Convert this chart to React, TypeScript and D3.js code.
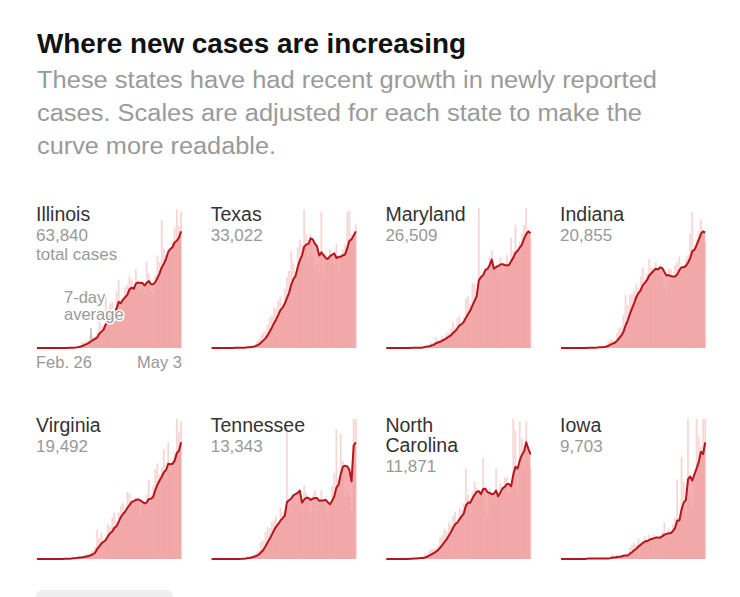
import React, { useEffect, useRef } from "react";
import * as d3 from "d3";

const WIDTH = 740;
const HEIGHT = 597;

// daily new cases, Feb. 26 through May 3
const illinois = [0, 0, 0, 1,
  0, 1, 0, 0, 1, 1, 0, 1, 3, 4,
  6, 7, 14, 14, 29, 46, 55, 125, 134, 163,
  168, 296, 236, 250, 330, 673, 488, 465, 1105, 461, 937,
  986, 715, 1209, 1453, 899, 1006, 1287, 1344, 1529, 1465,
  1293, 1672, 1173, 1222, 1346, 1140, 1842, 1585, 1197, 1151,
  1551, 1968, 1826, 2724, 2119, 1980, 2126, 1983, 2253, 2563,
  2950, 2600, 2900];
const texas = [0, 0, 0, 0,
  0, 0, 1, 0, 3, 2, 1, 4, 2, 3,
  5, 8, 10, 14, 18, 27, 34,
  62, 90, 135, 160, 175, 240, 310,
  330, 410, 400, 480, 520, 410, 600,
  720, 780, 980, 860, 760, 1020,
  1100, 1050, 1400, 1150,
  900, 1150, 950, 800,
  850, 750, 1380, 700,
  950, 880, 1000, 950, 850, 1050, 780,
  950, 1000, 1050, 1380, 1390, 1150, 1050, 1250];
const maryland = [0, 0, 0, 0, 0, 0, 0, 0, 3, 0,
  2, 0, 3, 1, 3, 6, 5, 11, 20, 28,
  22, 44, 41, 83, 59, 60, 95,
  74, 118, 119, 150, 200, 159, 230,
  250, 180, 240, 380, 400, 340, 500,
  500, 440, 1100,
  550, 500, 620, 560,
  700, 750, 600,
  640, 560, 700, 580, 650, 720, 630,
  850, 750, 950, 700,
  820, 880, 950,
  1100, 900, 850];
const indiana = [0, 0, 0, 0, 0, 0, 0, 0, 0,
  1, 1, 0, 2, 6,
  2, 3, 4, 5, 9, 7, 15,
  22, 46, 57, 58, 50, 105, 138,
  150,
  230, 370, 300, 370, 380, 400, 450,
  420, 500, 560, 480, 520, 620, 560,
  540, 600, 520, 580, 500, 430, 380,
  560, 550, 500, 580, 600, 640, 520,
  560, 620, 650, 800,
  950, 700, 760, 820, 900, 780, 740];
const virginia = [0, 0, 0, 0, 0, 0, 0, 0, 0, 0,
  1, 1, 0, 5,
  1, 4, 11, 15, 6, 15, 22,
  10, 23, 37, 33, 48, 63, 86,
  210, 150, 190, 110, 140, 250, 230,
  300, 330, 270, 330, 380, 400, 350,
  480, 470, 420, 380, 440, 430, 300,
  410, 390, 460, 560, 450, 520, 640,
  680, 600, 650, 780, 560, 830, 620,
  700, 760, 1020, 900, 980];
const tennessee = [0, 0, 0, 0, 0, 0, 0, 0, 0, 1, 0, 0,
  2, 3, 5, 8, 13, 20, 25,
  24, 45, 60, 70, 140, 150, 220, 260,
  250, 300, 320, 350, 300, 420, 380,
  400, 1080,
  420, 450, 480, 500, 450, 520,
  400,
  600, 540, 480, 380, 520, 560,
  400, 440, 560, 480, 420, 380, 440,
  600, 700, 1060, 650, 1020, 800,
  500, 560, 500, 400, 2700, 1200];
const northCarolina = [0, 0, 0, 0, 0, 0, 1, 0, 0, 1,
  0, 5, 0, 7, 1, 9, 7,
  4, 23, 24, 40, 47, 49, 47,
  60, 100, 110, 140, 130, 170, 160,
  200, 220, 170, 240, 230, 260, 420,
  300, 210, 310, 360, 330, 280, 320,
  470,
  220, 200, 330, 290, 300,
  420, 280, 350, 330, 380, 380,
  300, 350, 660, 600, 280,
  640, 560, 420, 640, 450, 420];
const iowa = [0, 0, 0, 0, 0, 0, 0, 0, 0, 0, 0,
  3, 5, 5,
  1, 0, 4, 1, 1, 1, 6,
  6, 0, 15, 22, 0, 21, 11,
  19, 21, 26, 25, 60, 70, 80,
  70, 100, 80, 90, 110, 85, 120,
  100, 120, 110, 95, 100, 130, 180,
  120, 150, 110, 170, 200, 390, 180,
  500, 380, 200, 880, 300,
  250, 400, 700, 600, 550, 800, 700];

const states = ["Illinois", "Texas", "Maryland", "Indiana", "Virginia", "Tennessee", "North Carolina", "Iowa"];
const totals = [63840, 33022, 26509, 20855, 19492, 13343, 11871, 9703];
const dailyCases = [illinois, texas, maryland, indiana, virginia, tennessee, northCarolina, iowa];
const dateLabels = ["Feb. 26", "May 3"];

const title = "Where new cases are increasing";
const subtitleLines = [
  "These states have had recent growth in newly reported",
  "cases. Scales are adjusted for each state to make the",
  "curve more readable."
];

const FONT = "'Liberation Sans', Arial, Helvetica, sans-serif";

function App() {
  const ref = useRef<SVGSVGElement>(null);

  useEffect(() => {
    drawChart(ref.current);
  }, []);

  return (
    <svg ref={ref} width={WIDTH} height={HEIGHT}
      style={{ position: "absolute", left: 0, top: 0, background: "#fff" }} />
  );
}

function drawChart(el: SVGSVGElement | null) {
  if (!el) return;
  const svg = d3.select(el);
  svg.selectAll("*").remove();

  // heading
  svg.append("text")
    .attr("x", 37).attr("y", 53)
    .attr("font-family", FONT)
    .attr("font-weight", 700)
    .attr("font-size", 28)
    .attr("fill", "#121212")
    .attr("textLength", 429)
    .attr("lengthAdjust", "spacingAndGlyphs")
    .text(title);

  const subWidths = [620, 605, 239];
  subtitleLines.forEach((line, i) => {
    svg.append("text")
      .attr("x", 37).attr("y", 88 + i * 33)
      .attr("font-family", FONT)
      .attr("font-size", 23.5)
      .attr("fill", "#9a9a9a")
      .attr("textLength", subWidths[i])
      .attr("lengthAdjust", "spacingAndGlyphs")
      .text(line);
  });

  // small multiples, 4 per row
  const colStep = 174.7,
    panelW = 146,
    plotH = 140,
    rowBase = [348, 559],
    n = illinois.length;

  const x = d3.scaleBand<number>()
    .domain(d3.range(n))
    .range([0, panelW])
    .paddingInner(0.18);
  const bw = x.bandwidth();
  const cx = (i: number) => (x(i) as number) + bw / 2;

  dailyCases.forEach((values, k) => {
    const col = k % 4, row = Math.floor(k / 4);
    const left = 36 + col * colStep;
    const g = svg.append("g").attr("transform", `translate(${left},${rowBase[row]})`);

    // trailing 7-day average
    const avg = values.map((v, i) => d3.mean(values.slice(Math.max(0, i - 6), i + 1)) as number);
    const yMax = (d3.max(avg) as number) * 1.2;
    const y = d3.scaleLinear().domain([0, yMax]).range([0, -plotH]).clamp(true);

    const area = d3.area<number>()
      .x((d, i) => cx(i))
      .y0(0)
      .y1(d => y(d));

    g.append("path")
      .datum(avg)
      .attr("fill", "#f4b0b0")
      .attr("d", area);

    g.append("g")
      .selectAll("rect")
      .data(values)
      .enter()
      .append("rect")
      .attr("x", (d, i) => x(i) as number)
      .attr("y", d => y(d))
      .attr("width", bw)
      .attr("height", d => -y(d))
      .attr("fill", "#ef9a9a")
      .attr("fill-opacity", 0.42);

    const line = d3.line<number>()
      .x((d, i) => cx(i))
      .y(d => y(d));

    g.append("path")
      .datum(avg)
      .attr("fill", "none")
      .attr("stroke", "#b3161d")
      .attr("stroke-width", 2)
      .attr("stroke-linejoin", "round")
      .attr("d", line);

    // labels
    const nameLines = states[k].length > 10 ? states[k].split(" ") : [states[k]];
    nameLines.forEach((s, j) => {
      g.append("text")
        .attr("x", 0).attr("y", -127 + j * 20)
        .attr("font-family", FONT)
        .attr("font-size", 19.5)
        .attr("fill", "#333")
        .text(s);
    });
    const numY = -107 + (nameLines.length - 1) * 20;
    g.append("text")
      .attr("x", 0).attr("y", numY)
      .attr("font-family", FONT)
      .attr("font-size", 17)
      .attr("fill", "#999")
      .text(d3.format(",")(totals[k]));

    if (k === 0) {
      g.append("text")
        .attr("x", 0).attr("y", numY + 19)
        .attr("font-family", FONT)
        .attr("font-size", 17)
        .attr("fill", "#999")
        .text("total cases");

      // annotation for the average line
      g.append("line")
        .attr("x1", 55).attr("x2", 55)
        .attr("y1", -20).attr("y2", -7)
        .attr("stroke", "#999")
        .attr("stroke-width", 1);
      ["7-day", "average"].forEach((s, j) => {
        g.append("text")
          .attr("x", 28).attr("y", -45 + j * 17)
          .attr("font-family", FONT)
          .attr("font-size", 16.5)
          .attr("fill", "#999")
          .attr("stroke", "#fff")
          .attr("stroke-width", 3)
          .attr("stroke-linejoin", "round")
          .attr("paint-order", "stroke")
          .text(s);
      });

      // date axis
      dateLabels.forEach((s, j) => {
        g.append("text")
          .attr("x", j === 0 ? 0 : panelW)
          .attr("y", 20)
          .attr("text-anchor", j === 0 ? "start" : "end")
          .attr("font-family", FONT)
          .attr("font-size", 16.5)
          .attr("fill", "#999")
          .text(s);
      });
    }
  });

  // button stub at the bottom
  svg.append("rect")
    .attr("x", 36).attr("y", 590)
    .attr("width", 137).attr("height", 20)
    .attr("rx", 6)
    .attr("fill", "#eeeeee");
}

export default App;
